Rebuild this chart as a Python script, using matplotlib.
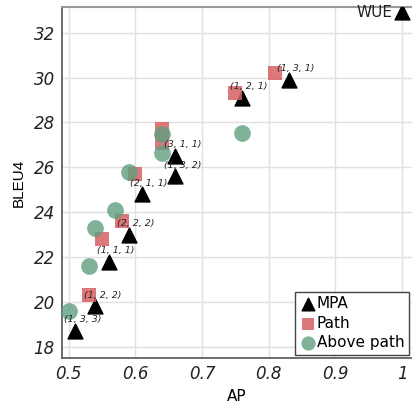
import matplotlib
matplotlib.use("Agg")
import matplotlib.pyplot as plt

# MPA-Punkte (Dreiecke) mit Beschriftung
mpa_ap = [0.51, 0.54, 0.56, 0.59, 0.61, 0.66, 0.66, 0.76, 0.83, 1.0]
mpa_bleu = [18.7, 19.8, 21.8, 23.0, 24.8, 25.6, 26.5, 29.1, 29.9, 32.9]
mpa_labels = ["(1, 3, 3)", "(1, 2, 2)", "(1, 1, 1)", "(2, 2, 2)", "(2, 1, 1)",
              "(1, 3, 2)", "(3, 1, 1)", "(1, 2, 1)", "(1, 3, 1)", "WUE"]

# Path (Quadrate)
path_ap = [0.53, 0.55, 0.58, 0.60, 0.64, 0.64, 0.75, 0.81]
path_bleu = [20.3, 22.8, 23.6, 25.7, 27.1, 27.7, 29.3, 30.2]

# Above path (Kreise)
above_ap = [0.50, 0.53, 0.54, 0.57, 0.59, 0.64, 0.64, 0.76]
above_bleu = [19.6, 21.6, 23.3, 24.1, 25.8, 26.65, 27.5, 27.55]

x_ticks = [0.5, 0.6, 0.7, 0.8, 0.9, 1.0]
x_tick_labels = ["0.5", "0.6", "0.7", "0.8", "0.9", "1"]
y_ticks = [18, 20, 22, 24, 26, 28, 30, 32]

fig = plt.figure(figsize=(4.12, 4.05), dpi=100)
ax = fig.add_axes([0.150, 0.116, 0.850, 0.867])

ax.scatter(mpa_ap, mpa_bleu, marker="^", s=115, color="black", zorder=3, label="MPA")
ax.scatter(path_ap, path_bleu, marker="s", s=110, color="#d65f63", alpha=0.85,
           linewidths=0, zorder=4, label="Path")
ax.scatter(above_ap, above_bleu, marker="o", s=145, color="#5f9f80", alpha=0.8,
           linewidths=0, zorder=5, label="Above path")

# Beschriftungen der Konfigurationen
for x, y, txt in zip(mpa_ap, mpa_bleu, mpa_labels):
    if txt == "WUE":
        ax.annotate(txt, (x, y), xytext=(-7, 0), textcoords="offset points",
                    ha="right", va="center", fontsize=11, color="#222222", zorder=6)
    else:
        ax.annotate(txt, (x, y), xytext=(5, 8), textcoords="offset points",
                    ha="center", va="center", fontsize=6.8, style="italic",
                    color="#222222", zorder=6)

ax.set_xlim(0.4895, 1.015)
ax.set_ylim(17.5, 33.15)
ax.set_xticks(x_ticks)
ax.set_xticklabels(x_tick_labels, fontsize=12, style="italic")
ax.set_yticks(y_ticks)
ax.set_yticklabels([str(v) for v in y_ticks], fontsize=12, style="italic")
ax.tick_params(length=0, pad=5, colors="#222222")

ax.grid(True, color="#e0e0e0", linewidth=1.0, zorder=0)
ax.set_axisbelow(True)

ax.spines["right"].set_visible(False)
ax.spines["top"].set_color("#999999")
ax.spines["top"].set_linewidth(1.5)
ax.spines["left"].set_color("#555555")
ax.spines["left"].set_linewidth(1.2)
ax.spines["bottom"].set_color("#555555")
ax.spines["bottom"].set_linewidth(1.2)

ax.set_xlabel("AP", fontsize=11, labelpad=4)
ax.set_ylabel("BLEU4", fontsize=11, labelpad=6, family=["Liberation Sans Narrow", "Liberation Sans"])

leg = ax.legend(loc="lower right", fontsize=11, handletextpad=0.0, handlelength=1.1,
                borderpad=0.3, labelspacing=0.3, borderaxespad=0.2, markerscale=0.85,
                fancybox=False, framealpha=1.0, edgecolor="#444444")
leg.get_frame().set_linewidth(1.0)

fig.savefig("out.png", dpi=100)
